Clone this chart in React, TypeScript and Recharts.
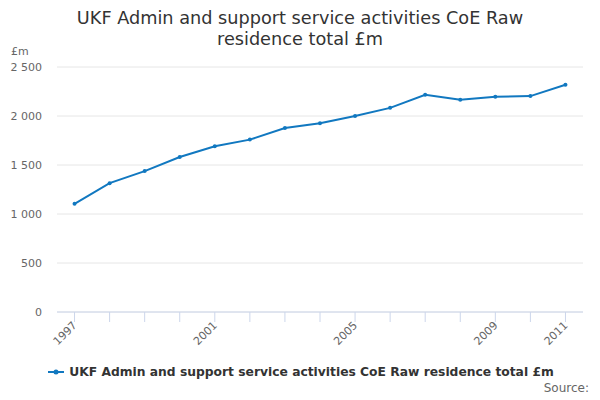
import React from "react";
import { LineChart, Line, XAxis, YAxis, CartesianGrid } from "recharts";

const years = ["1997", "1998", "1999", "2000", "2001", "2002", "2003", "2004", "2005", "2006", "2007", "2008", "2009", "2010", "2011"];
const values = [1104, 1315, 1438, 1581, 1691, 1759, 1878, 1926, 2000, 2083, 2217, 2166, 2196, 2203, 2319];
const labelledYears = ["1997", "2001", "2005", "2009", "2011"];
const yTicks = [0, 500, 1000, 1500, 2000, 2500];

const seriesName = "UKF Admin and support service activities CoE Raw residence total £m";
const titleLines = ["UKF Admin and support service activities CoE Raw", "residence total £m"];

const data = years.map((year, i) => ({ year, value: values[i] }));

const FONT = '"DejaVu Sans", sans-serif';
const LINE_COLOR = "#1178c0";

const formatThousands = (v: number) => String(v).replace(/\B(?=(\d{3})+(?!\d))/g, " ");

function YearTick(props: any) {
  const { x, y, payload } = props;
  const show = labelledYears.includes(payload.value);
  return (
    <g>
      <line x1={x} y1={y} x2={x} y2={y + 10} stroke="#ccd6eb" strokeWidth={1} />
      {show && (
        <text
          x={x + 3}
          y={y + 14}
          textAnchor="end"
          transform={`rotate(-45 ${x + 3} ${y + 14})`}
          fill="#666666"
          fontSize={11}
          fontFamily={FONT}
        >
          {payload.value}
        </text>
      )}
    </g>
  );
}

export default function App() {
  return (
    <div style={{ position: "fixed", left: 0, top: 0, width: 600, height: 400, background: "#fff" }}>
      <div
        style={{
          position: "absolute",
          top: 8,
          left: 0,
          width: 600,
          textAlign: "center",
          fontFamily: FONT,
          fontSize: 17.7,
          lineHeight: "21px",
          color: "#333333",
        }}
      >
        {titleLines.map((t) => (
          <div key={t}>{t}</div>
        ))}
      </div>
      <div style={{ position: "absolute", left: 11, top: 45, fontFamily: FONT, fontSize: 11, color: "#666666" }}>£m</div>
      <LineChart width={600} height={400} data={data} margin={{ top: 67, right: 17, bottom: 58, left: 0 }}>
        <CartesianGrid vertical={false} stroke="#e6e6e6" />
        <XAxis
          dataKey="year"
          scale="band"
          height={30}
          interval={0}
          tickSize={0}
          tickMargin={0}
          tickLine={false}
          axisLine={{ stroke: "#ccd6eb" }}
          tick={<YearTick />}
        />
        <YAxis
          width={57}
          domain={[0, 2500]}
          ticks={yTicks}
          axisLine={false}
          tickLine={false}
          tickSize={0}
          tickMargin={15}
          tickFormatter={formatThousands}
          tick={{ fill: "#666666", fontSize: 11, fontFamily: FONT }}
        />
        <Line
          type="linear"
          dataKey="value"
          name={seriesName}
          stroke={LINE_COLOR}
          strokeWidth={2}
          dot={{ r: 2, fill: LINE_COLOR, stroke: LINE_COLOR, strokeWidth: 0 }}
          activeDot={false}
          isAnimationActive={false}
        />
      </LineChart>
      <div
        style={{
          position: "absolute",
          top: 365,
          left: 0,
          width: 600,
          display: "flex",
          justifyContent: "center",
          alignItems: "center",
          fontFamily: FONT,
        }}
      >
        <svg width={20} height={12} style={{ marginRight: 3 }}>
          <line x1={2} y1={6} x2={18} y2={6} stroke={LINE_COLOR} strokeWidth={2} />
          <circle cx={10} cy={6} r={2.5} fill={LINE_COLOR} />
        </svg>
        <span style={{ fontSize: 12.3, fontWeight: "bold", color: "#333333" }}>{seriesName}</span>
      </div>
      <div style={{ position: "absolute", right: 11, top: 381, fontFamily: FONT, fontSize: 12, color: "#666666" }}>Source:</div>
    </div>
  );
}
